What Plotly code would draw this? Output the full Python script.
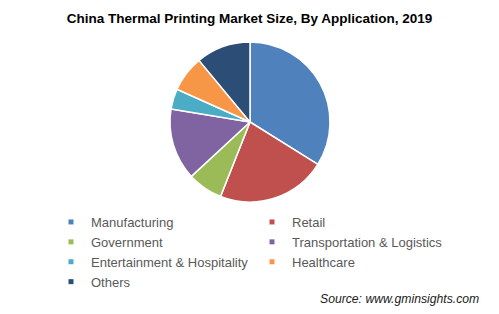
import plotly.graph_objects as go

categories = ["Manufacturing", "Retail", "Government", "Transportation & Logistics",
              "Entertainment & Hospitality", "Healthcare", "Others"]
shares = [33.9, 22.1, 7.1, 14.5, 4.1, 7.3, 11.0]
colors = ["#4F81BD", "#C0504D", "#9BBB59", "#8064A2", "#4BACC6", "#F79646", "#2C4D75"]

title_text = "<b>China Thermal Printing Market Size, By Application, 2019</b>"
source_text = "<i>Source: www.gminsights.com</i>"

W, H = 499, 314
fig = go.Figure()

fig.add_trace(go.Pie(
    labels=categories, values=shares, sort=False, direction="clockwise", rotation=0,
    marker=dict(colors=colors, line=dict(color="white", width=1.5)),
    textinfo="none", showlegend=False,
    domain=dict(x=[170 / W, 330 / W], y=[(H - 202) / H, (H - 42) / H]),
))

for name, col in zip(categories, colors):
    fig.add_trace(go.Scatter(x=[None], y=[None], mode="markers", name=name,
                             marker=dict(symbol="square", size=5, color=col)))

fig.update_layout(
    width=W, height=H,
    margin=dict(l=0, r=0, t=0, b=0),
    paper_bgcolor="white", plot_bgcolor="white",
    font=dict(family="Liberation Sans, Arial, sans-serif", color="#595959", size=13),
    title=dict(text=title_text, x=0.5, xanchor="center", y=1 - 18 / H, yanchor="middle",
               font=dict(size=13.5, color="#000000")),
    xaxis=dict(visible=False), yaxis=dict(visible=False),
    legend=dict(orientation="h", x=51 / W, xanchor="left", y=1 - 207 / H, yanchor="top",
                entrywidth=156, entrywidthmode="pixels", tracegroupgap=0,
                font=dict(size=13, color="#595959"), bgcolor="rgba(0,0,0,0)"),
    annotations=[dict(text=source_text, x=481 / W, y=1 - 299 / H, xref="paper", yref="paper",
                      xanchor="right", yanchor="middle", showarrow=False,
                      font=dict(size=12.2, color="#1a1a1a"))],
)

fig.write_html("out.html")
